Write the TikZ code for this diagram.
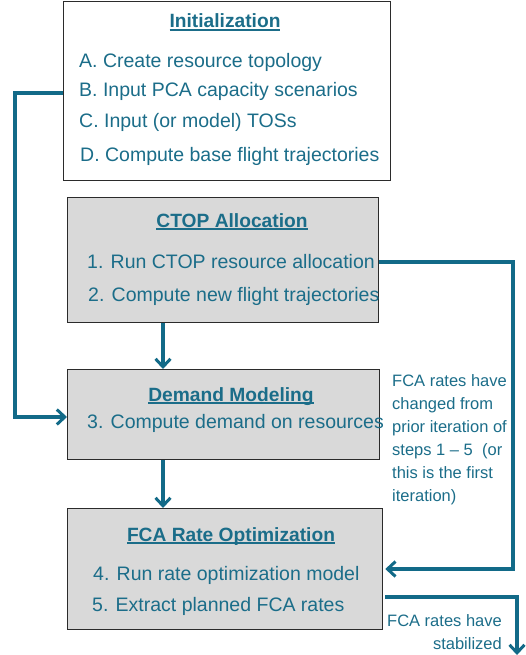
\documentclass[tikz,border=0pt]{standalone}
\usepackage{fontspec}
\setmainfont{Liberation Sans}
\usetikzlibrary{arrows.meta,calc}
\definecolor{teal1}{HTML}{1B6D89}
\definecolor{teal2}{HTML}{126A88}
\definecolor{boxgray}{HTML}{D9D9D9}
\definecolor{edge}{HTML}{2B2B2B}
\newcommand\myul[1]{\setbox0\hbox{#1}\rlap{\rule[-3.2pt]{\wd0}{1.9pt}}\box0}
\begin{document}
\begin{tikzpicture}[x=1pt,y=-1pt,
  boxA/.style={draw=edge,line width=1.3pt,anchor=north west,inner sep=0pt},
  boxG/.style={boxA,fill=boxgray},
  ttl/.style={anchor=base,inner sep=0pt,text=teal1,font=\fontsize{19.2}{23}\selectfont\bfseries},
  itm/.style={anchor=base west,inner sep=0pt,text=teal1,font=\fontsize{19.5}{23}\selectfont},
  lbl/.style={inner sep=0pt,text=teal1,font=\fontsize{16.5}{23}\selectfont},
  conn/.style={draw=teal2,line width=3.2pt},
  tip/.style={-{Straight Barb[length=8pt,width=15pt,line width=3pt]}}
]
\useasboundingbox (0,0) rectangle (526,655);
% boxes
\node[boxA,minimum width=327pt,minimum height=179pt] (init) at (63,0.7) {};
\node[boxG,minimum width=311pt,minimum height=125pt] (ctop) at (67,197) {};
\node[boxG,minimum width=312pt,minimum height=90pt] (demand) at (67,369) {};
\node[boxG,minimum width=315pt,minimum height=121pt] (fca) at (67,508) {};
% init text
\node[ttl] (tinit) at (225,28) {\myul{Initialization}};
\node[itm] (lA) at (79,68) {A. Create resource topology};
\node[itm] (lB) at (79,97) {B. Input PCA capacity scenarios};
\node[itm] (lC) at (79,128) {C. Input (or model) TOSs};
\node[itm] (lD) at (80,161) {D. Compute base flight trajectories};
% ctop
\node[ttl] (tctop) at (232,227) {\myul{CTOP Allocation}};
\node[itm] (l1) at (87,268) {1. Run CTOP resource allocation};
\node[itm] (l2) at (88,301) {2. Compute new flight trajectories};
% demand
\node[ttl] (tdem) at (231,401) {\myul{Demand Modeling}};
\node[itm] (l3) at (87,428) {3. Compute demand on resources};
% fca
\node[ttl] (tfca) at (231,541) {\myul{FCA Rate Optimization}};
\node[itm] (l4) at (93,580) {4. Run rate optimization model};
\node[itm] (l5) at (92,611) {5. Extract planned FCA rates};
% side labels
\node[lbl,anchor=north west,align=left] (side) at (392,374)
  {FCA rates have\\changed from\\prior iteration of\\steps 1 -- 5~ (or\\this is the first\\iteration)};
\node[lbl,anchor=north east,align=right] (stab) at (502,614)
  {FCA rates have\\stabilized};
% coordinates
\coordinate (cx) at (163,0);
\coordinate (lx) at (15,0);
\coordinate (rx) at (513,0);
\coordinate (yb) at (0,93);
\coordinate (yd) at (0,417);
\coordinate (y1) at (0,262);
\coordinate (y4) at (0,569);
\coordinate (y5) at (0,597);
\coordinate (ybot) at (517,655);
% connectors
\draw[conn,tip] (init.west |- yb) -| (lx |- yd) -- (demand.west |- yd);
\draw[conn,tip] (ctop.south -| cx) -- (demand.north -| cx);
\draw[conn,tip] (demand.south -| cx) -- (fca.north -| cx);
\draw[conn,tip] (ctop.east |- y1) -| (rx |- y4) -- ([xshift=2pt]fca.east |- y4);
\draw[conn,tip] ([xshift=2pt]fca.east |- y5) -| (ybot);
\end{tikzpicture}
\end{document}
